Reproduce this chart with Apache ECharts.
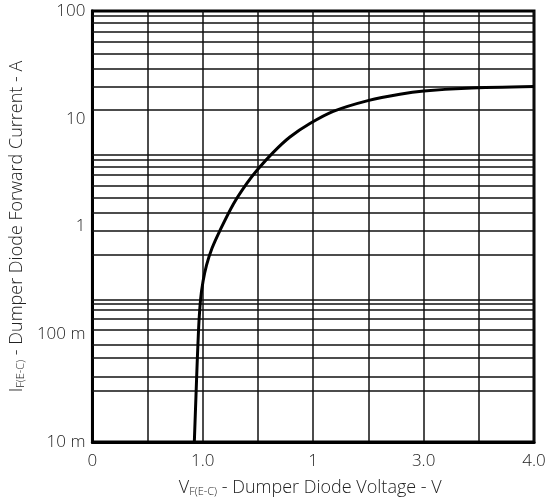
<!DOCTYPE html>
<html>
<head>
<meta charset="utf-8">
<script src="https://cdn.jsdelivr.net/npm/echarts@6/dist/echarts.min.js"></script>
<style>html,body{margin:0;padding:0;background:#fff}#c{width:552px;height:504px}</style>
</head>
<body>
<div id="c"></div>
<script>
// Curve data: forward voltage (V) vs forward current (A)
const curveV = [0.923, 0.943, 0.961, 0.979, 1.002, 1.033, 1.083, 1.156, 1.276, 1.397, 1.502, 1.638, 1.789, 1.970, 2.181, 2.504, 2.785, 3.002, 3.388, 4.000];
const curveI = [0.010, 0.0374, 0.109, 0.207, 0.310, 0.436, 0.628, 0.922, 1.61, 2.50, 3.43, 4.88, 6.77, 9.02, 11.7, 14.8, 16.9, 18.1, 19.2, 19.9];

// Horizontal grid lines as drawn on the original sheet (current values, A)
const hGridValues = [90, 77.4, 63.8, 51.6, 40.2, 29.2, 19.9, 12.0,
  4.68, 4.18, 3.62, 2.99, 2.40, 1.85, 1.34, 0.922, 0.552,
  0.214, 0.192, 0.165, 0.138, 0.110, 0.0848, 0.0621, 0.0428, 0.0255];

// Tick labels
const xTickValues = [0, 1, 2, 3, 4];
const xTickLabels = ['0', '1.0', '1', '3.0', '4.0'];
const yTickValues = [100, 10, 1, 0.1, 0.01];
const yTickLabels = ['100', '10', '1', '100 m', '10 m'];

const curveData = curveV.map((v, i) => [v, curveI[i]]);
const font = '"Open Sans", Lato, sans-serif';
const fw = 300;
const txt = '#222';

const chart = echarts.init(document.getElementById('c'), null, {renderer: 'canvas'});
chart.setOption({
  animation: false,
  backgroundColor: '#fff',
  grid: {left: 92, right: 18, top: 11, bottom: 62, show: true, borderColor: '#000', borderWidth: 3, backgroundColor: 'transparent'},
  xAxis: {
    type: 'value', min: 0, max: 4, interval: 0.5,
    axisLine: {show: true, lineStyle: {color: '#000', width: 3}},
    axisTick: {show: false},
    splitLine: {show: true, lineStyle: {color: '#111', width: 1.5}},
    axisLabel: {
      color: txt, fontFamily: font, fontWeight: fw, fontSize: 17, margin: 11,
      formatter: v => { const k = xTickValues.indexOf(v); return k >= 0 ? xTickLabels[k] : ''; }
    },
    name: '{v|V}{s|F(E-C)}{t| - Dumper Diode Voltage - V}',
    nameLocation: 'middle', nameGap: 37,
    nameTextStyle: {
      padding: [0, 6, 0, 0],
      rich: {
        v: {fontFamily: font, fontWeight: fw, fontSize: 18, color: txt, verticalAlign: 'bottom'},
        s: {fontFamily: font, fontWeight: fw, fontSize: 11, color: txt, verticalAlign: 'bottom'},
        t: {fontFamily: font, fontWeight: fw, fontSize: 18, color: txt, verticalAlign: 'bottom'}
      }
    }
  },
  yAxis: {
    type: 'log', logBase: 10, min: 0.01, max: 100,
    axisLine: {show: true, lineStyle: {color: '#000', width: 3}},
    axisTick: {show: false},
    splitLine: {show: false},
    minorSplitLine: {show: false},
    axisLabel: {
      color: txt, fontFamily: font, fontWeight: fw, fontSize: 17, margin: 7,
      formatter: v => {
        const k = yTickValues.findIndex(t => Math.abs(Math.log10(t) - Math.log10(v)) < 1e-6);
        return k >= 0 ? yTickLabels[k] : '';
      }
    },
    name: '{v|I}{s|F(E-C)}{t| - Dumper Diode Forward Current - A}',
    nameLocation: 'middle', nameGap: 64, nameRotate: 90,
    nameTextStyle: {
      rich: {
        v: {fontFamily: font, fontWeight: fw, fontSize: 18, color: txt, verticalAlign: 'bottom'},
        s: {fontFamily: font, fontWeight: fw, fontSize: 11, color: txt, verticalAlign: 'bottom'},
        t: {fontFamily: font, fontWeight: fw, fontSize: 18, color: txt, verticalAlign: 'bottom'}
      }
    }
  },
  series: [
    {
      type: 'line', data: [], silent: true,
      markLine: {
        silent: true, symbol: ['none', 'none'], animation: false,
        label: {show: false},
        lineStyle: {color: '#111', width: 1.5, type: 'solid'},
        data: hGridValues.map(v => ({yAxis: v}))
      }
    },
    {
      type: 'line', data: curveData, showSymbol: false, smooth: 0.3,
      lineStyle: {color: '#000', width: 3}, z: 5, clip: true
    }
  ]
});
</script>
</body>
</html>
